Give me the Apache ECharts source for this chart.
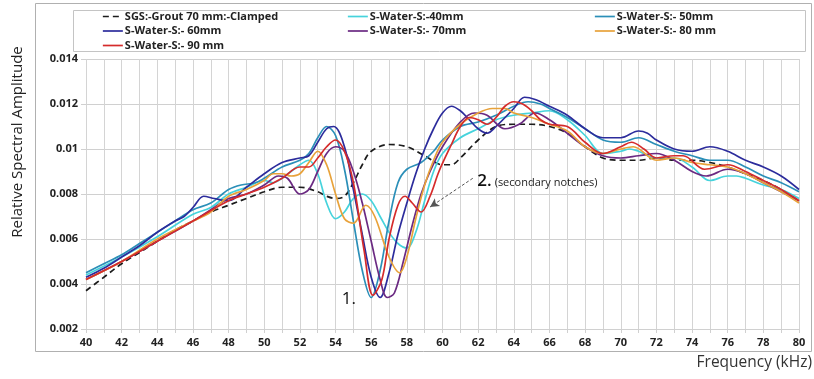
<!DOCTYPE html>
<html>
<head>
<meta charset="utf-8">
<script src="https://cdn.jsdelivr.net/npm/echarts@6/dist/echarts.min.js"></script>
<style>
  html, body { margin: 0; padding: 0; background: #fff; }
  #chart { width: 814px; height: 379px; }
</style>
</head>
<body>
<div id="chart"></div>
<script>
// Frequency axis ticks (kHz) and amplitude ticks
const freqMin = 40, freqMax = 80, freqStep = 1;
const ampMin = 0.002, ampMax = 0.014, ampStep = 0.002;

// SGS grout 70 mm, clamped (reference curve)
const groutFreq = [40,41,42,43,44,45,46,47,48,49,50,51,52,53,53.5,54,54.5,55,55.5,56,57,58,59,60,60.5,61,62,63,64,65,66,67,68,69,70,71,72,73,74,75,76,77,78,79,80];
const groutAmp  = [0.0037,0.0043,0.0049,0.0054,0.0059,0.0064,0.0068,0.0072,0.0075,0.0078,0.0081,0.0083,0.0083,0.0081,0.0079,0.0078,0.0079,0.0085,0.0093,0.0099,0.0102,0.0101,0.0097,0.0093,0.0093,0.0096,0.0104,0.0110,0.0111,0.0111,0.0110,0.0107,0.0101,0.0096,0.0095,0.0095,0.0096,0.0095,0.0095,0.0094,0.0092,0.0089,0.0086,0.0082,0.0077];

// S-Water-S 40 mm
const w40Freq = [40,42,44,46,47,48,49,50,50.5,51,52,52.5,53,53.5,54,54.5,55,55.5,56,56.5,57,57.5,58,58.5,59,59.5,60,61,62,63,64,65,66,67,68,69,70,70.5,71,72,73,74,75,76,76.5,77,78,79,80];
const w40Amp  = [0.0044,0.0052,0.0061,0.0071,0.0074,0.0080,0.0083,0.0086,0.0085,0.0087,0.0093,0.0095,0.0089,0.0076,0.0069,0.0072,0.0078,0.0080,0.0077,0.0070,0.0063,0.0058,0.0056,0.0063,0.0077,0.0090,0.0098,0.0105,0.0109,0.0113,0.0115,0.0116,0.0117,0.0113,0.0106,0.0098,0.0099,0.0100,0.0099,0.0096,0.0096,0.0092,0.0086,0.0088,0.0088,0.0087,0.0084,0.0082,0.0078];

// S-Water-S 50 mm
const w50Freq = [40,41,42,43,44,45,46,47,48,48.7,49.5,50,51,52,52.5,53,53.5,54,54.5,55,55.5,56,56.5,57,57.5,58,58.8,59.5,60,61,62,63,64,64.8,65.5,66,67,68,69,70,71,72,73,74,75,76,77,78,79,80];
const w50Amp  = [0.0045,0.0049,0.0053,0.0058,0.0063,0.0068,0.0073,0.0076,0.0082,0.0084,0.0085,0.0087,0.0092,0.0095,0.0098,0.0105,0.0110,0.0106,0.0091,0.0068,0.0046,0.0034,0.0046,0.0068,0.0085,0.0091,0.0094,0.0099,0.0104,0.0110,0.0112,0.0115,0.0119,0.0121,0.0120,0.0118,0.0114,0.0109,0.0104,0.0103,0.0105,0.0102,0.0099,0.0097,0.0095,0.0095,0.0092,0.0088,0.0085,0.0081];

// S-Water-S 60 mm
const w60Freq = [40,41,42,43,44,45,45.5,46,46.6,47.2,48,49,50,51,52,52.5,53,53.5,53.9,54.5,55,55.5,56,56.5,57,57.5,58,58.5,59,59.5,60,60.5,61,61.5,62,62.5,63,64,64.6,65.2,66,67,68,69,70,71,71.5,72,73,74,75,76,77,78,79,80];
const w60Amp  = [0.0043,0.0047,0.0052,0.0057,0.0063,0.0068,0.0070,0.0074,0.0079,0.0078,0.0077,0.0083,0.0089,0.0094,0.0096,0.0097,0.0103,0.0109,0.0110,0.0101,0.0082,0.0062,0.0043,0.0034,0.0045,0.0062,0.0076,0.0089,0.0100,0.0109,0.0116,0.0119,0.0117,0.0113,0.0109,0.0107,0.0110,0.0118,0.0123,0.0122,0.0119,0.0115,0.0109,0.0105,0.0105,0.0108,0.0107,0.0104,0.0100,0.0099,0.0101,0.0099,0.0095,0.0092,0.0088,0.0082];

// S-Water-S 70 mm
const w70Freq = [40,42,44,46,47,48,49,50,50.8,51.3,52,52.5,53,53.5,54,54.5,55,55.5,56,56.5,56.9,57.3,57.8,58.3,58.8,59.3,60,61,61.8,62.5,63.5,64.3,65.2,66,67,68,69,70,71,72,73,74,74.8,76,77,78,79,80];
const w70Amp  = [0.0042,0.0050,0.0059,0.0068,0.0073,0.0078,0.0080,0.0084,0.0088,0.0087,0.0080,0.0082,0.0090,0.0098,0.0101,0.0099,0.0090,0.0076,0.0059,0.0042,0.0034,0.0036,0.0050,0.0066,0.0080,0.0090,0.0101,0.0112,0.0116,0.0115,0.0109,0.0111,0.0116,0.0113,0.0107,0.0101,0.0097,0.0096,0.0097,0.0098,0.0095,0.0090,0.0088,0.0091,0.0089,0.0085,0.0081,0.0077];

// S-Water-S 80 mm
const w80Freq = [40,42,44,46,47,48,49,50,50.5,51,51.5,52,52.5,53,53.5,54,54.5,55,55.7,56.2,57,57.6,58,58.5,59,59.5,60,61,62,62.8,63.5,64,65,66,67,68,69,70,70.7,72,73,74,75,76,77,78,79,80];
const w80Amp  = [0.0042,0.0050,0.0060,0.0068,0.0072,0.0079,0.0082,0.0086,0.0089,0.0089,0.0088,0.0089,0.0094,0.0099,0.0093,0.0080,0.0069,0.0067,0.0075,0.0070,0.0052,0.0045,0.0052,0.0069,0.0084,0.0095,0.0103,0.0111,0.0116,0.0118,0.0118,0.0116,0.0114,0.0111,0.0108,0.0101,0.0098,0.0100,0.0101,0.0095,0.0096,0.0094,0.0093,0.0092,0.0089,0.0085,0.0081,0.0076];

// S-Water-S 90 mm
const w90Freq = [40,42,44,46,48,49,50,51,52,52.5,53,53.5,54,54.5,55,55.6,56.1,56.6,57,57.5,57.9,58.3,58.8,59.3,59.8,60.5,61,61.5,62,62.5,63,63.5,64,64.5,65,65.5,66,67,68,69,70,70.6,71.3,72,73,73.5,74.7,76,77,78,79,80];
const w90Amp  = [0.0042,0.0050,0.0059,0.0068,0.0077,0.0080,0.0083,0.0087,0.0092,0.0092,0.0096,0.0101,0.0104,0.0099,0.0085,0.0055,0.0035,0.0042,0.0060,0.0075,0.0079,0.0076,0.0072,0.0079,0.0090,0.0102,0.0110,0.0114,0.0113,0.0111,0.0114,0.0119,0.0121,0.0120,0.0117,0.0113,0.0111,0.0110,0.0103,0.0098,0.0101,0.0103,0.0100,0.0096,0.0097,0.0097,0.0091,0.0093,0.0090,0.0086,0.0082,0.0077];

const seriesNames = [
  'SGS:-Grout 70 mm:-Clamped',
  'S-Water-S:-40mm',
  'S-Water-S:- 50mm',
  'S-Water-S:- 60mm',
  'S-Water-S:- 70mm',
  'S-Water-S:- 80 mm',
  'S-Water-S:- 90 mm'
];
const seriesFreq = [groutFreq, w40Freq, w50Freq, w60Freq, w70Freq, w80Freq, w90Freq];
const seriesAmp  = [groutAmp, w40Amp, w50Amp, w60Amp, w70Amp, w80Amp, w90Amp];
const seriesColors = ['#1c1c1c', '#46d3dc', '#2b8fb8', '#2c2c9c', '#6b2a82', '#e8a23a', '#d52b2b'];

// Annotation text and anchor points (data coordinates)
const notchLabel = '1.';
const notchLabelAt = [54.35, 0.00332];
const secondaryLabel = '2.';
const secondaryNote = '(secondary notches)';
const secondaryLabelAt = [61.95, 0.00858];
const arrowFrom = [61.7, 0.0087];
const arrowTo = [59.3, 0.00742];

const pairs = (xs, ys) => xs.map((x, i) => [x, ys[i]]);

const tickFont = { fontFamily: 'Open Sans', fontWeight: 'bold', fontSize: 11, color: '#222' };

const series = seriesNames.map((name, i) => ({
  name,
  type: 'line',
  data: pairs(seriesFreq[i], seriesAmp[i]),
  smooth: 0.35,
  showSymbol: false,
  symbol: 'none',
  z: 2 + i,
  color: seriesColors[i],
  lineStyle: i === 0
    ? { color: seriesColors[i], width: 1.7, type: [6, 4] }
    : { color: seriesColors[i], width: 1.7 }
}));

// Annotations attached to the reference curve
series[0].markPoint = {
  silent: true,
  symbol: 'circle',
  symbolSize: 0,
  data: [
    {
      coord: notchLabelAt,
      label: {
        show: true, position: 'right', distance: 0,
        formatter: notchLabel,
        fontFamily: 'Open Sans', fontSize: 17, color: '#111'
      }
    },
    {
      coord: secondaryLabelAt,
      label: {
        show: true, position: 'right', distance: 0,
        formatter: '{a|' + secondaryLabel + '}{b|' + secondaryNote + '}',
        rich: {
          a: { fontFamily: 'Open Sans', fontSize: 17, fontWeight: 600, color: '#111', padding: [0, 3, 0, 0] },
          b: { fontFamily: 'Open Sans', fontSize: 11, color: '#222', padding: [3, 0, 0, 0] }
        }
      }
    }
  ]
};
series[0].markLine = {
  silent: true,
  symbol: ['none', 'arrow'],
  symbolSize: [7, 9],
  label: { show: false },
  lineStyle: { color: '#555', width: 1, type: [3, 2] },
  data: [[{ coord: arrowFrom }, { coord: arrowTo }]]
};

// Legend entries show only the line stroke, no marker
const legendCommon = {
  orient: 'vertical',
  padding: 0,
  itemWidth: 20,
  itemHeight: 10,
  itemGap: 3.5,
  itemStyle: { opacity: 0 },
  lineStyle: { width: 1.7 },
  textStyle: { fontFamily: 'Open Sans', fontWeight: 'bold', fontSize: 11, color: '#222', padding: [0, 0, 0, -3] },
  selectedMode: false,
  top: 11
};

const chart = echarts.init(document.getElementById('chart'));
chart.setOption({
  animation: false,
  backgroundColor: '#fff',
  grid: { left: 86, right: 15, top: 59, bottom: 50, containLabel: false },
  legend: [
    Object.assign({}, legendCommon, { left: 102, data: [seriesNames[0], seriesNames[3], seriesNames[6]] }),
    Object.assign({}, legendCommon, { left: 347, data: [seriesNames[1], seriesNames[4]] }),
    Object.assign({}, legendCommon, { left: 594, data: [seriesNames[2], seriesNames[5]] })
  ],
  xAxis: {
    type: 'value',
    min: freqMin, max: freqMax, interval: freqStep,
    axisLine: { show: false },
    axisTick: { show: true, length: 4, lineStyle: { color: '#d0d0d0' } },
    axisLabel: Object.assign({}, tickFont, {
      margin: 8,
      formatter: v => (v % 2 === 0 ? String(v) : '')
    }),
    splitLine: { show: true, lineStyle: { color: '#d4d4d4', width: 1 } }
  },
  yAxis: {
    type: 'value',
    min: ampMin, max: ampMax, interval: ampStep,
    axisLine: { show: false },
    axisTick: { show: true, length: 5, lineStyle: { color: '#d0d0d0' } },
    axisLabel: Object.assign({}, tickFont, {
      margin: 8,
      formatter: v => String(+v.toFixed(3))
    }),
    splitLine: { show: true, lineStyle: { color: '#d0d0d0', width: 1 } }
  },
  graphic: [
    {
      type: 'rect', z: -10, silent: true,
      shape: { x: 35.5, y: 3.5, width: 776, height: 348 },
      style: { fill: 'none', stroke: '#b0b0b0', lineWidth: 1 }
    },
    {
      type: 'rect', z: -5, silent: true,
      shape: { x: 73.5, y: 10.5, width: 732, height: 41 },
      style: { fill: '#fff', stroke: '#c4c4c4', lineWidth: 1 }
    },
    {
      type: 'text', silent: true,
      x: 18, y: 142, rotation: Math.PI / 2,
      style: {
        text: 'Relative Spectral Amplitude',
        fontFamily: 'Open Sans', fontSize: 15, fill: '#222',
        align: 'center', verticalAlign: 'middle'
      }
    },
    {
      type: 'text', silent: true,
      x: 812, y: 363,
      style: {
        text: 'Frequency (kHz)',
        fontFamily: 'Open Sans', fontSize: 15.5, fill: '#333',
        align: 'right', verticalAlign: 'middle'
      }
    }
  ],
  series
});
</script>
</body>
</html>
